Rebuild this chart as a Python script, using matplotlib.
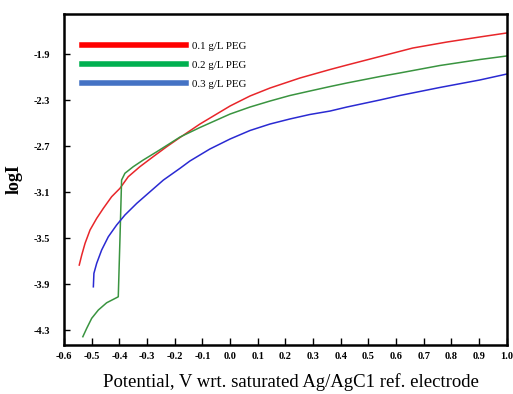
import matplotlib
matplotlib.use("Agg")
import matplotlib.pyplot as plt
from matplotlib.lines import Line2D

# Potentiodynamic curves
red_x = [-0.545, -0.536, -0.524, -0.506, -0.482, -0.458, -0.428, -0.398, -0.368,
         -0.326, -0.278, -0.229, -0.181, -0.109, 0.0, 0.072, 0.144, 0.252, 0.361,
         0.422, 0.541, 0.660, 0.783, 0.902, 1.0]
red_y = [-3.735, -3.648, -3.546, -3.430, -3.329, -3.242, -3.141, -3.068, -2.967,
         -2.880, -2.793, -2.706, -2.626, -2.509, -2.352, -2.265, -2.196, -2.109,
         -2.035, -1.996, -1.922, -1.848, -1.796, -1.752, -1.717]

green_x = [-0.532, -0.518, -0.500, -0.476, -0.446, -0.404, -0.398, -0.392, -0.380,
           -0.350, -0.314, -0.265, -0.217, -0.181, -0.109, 0.0, 0.072, 0.144, 0.216,
           0.288, 0.361, 0.422, 0.541, 0.613, 0.758, 0.902, 1.0]
green_y = [-4.358, -4.285, -4.198, -4.126, -4.063, -4.011, -3.517, -2.996, -2.937,
           -2.880, -2.822, -2.750, -2.677, -2.622, -2.539, -2.422, -2.361, -2.309,
           -2.261, -2.222, -2.183, -2.152, -2.096, -2.065, -2.000, -1.948, -1.917]

blue_x = [-0.494, -0.492, -0.482, -0.464, -0.440, -0.410, -0.380, -0.337, -0.289,
          -0.241, -0.181, -0.145, -0.073, 0.0, 0.072, 0.144, 0.216, 0.288, 0.361,
          0.422, 0.541, 0.613, 0.758, 0.902, 1.0]
blue_y = [-3.924, -3.807, -3.720, -3.604, -3.489, -3.387, -3.300, -3.198, -3.097,
          -2.996, -2.894, -2.830, -2.726, -2.639, -2.565, -2.509, -2.465, -2.426,
          -2.396, -2.361, -2.300, -2.261, -2.191, -2.126, -2.074]

labels = ["0.1 g/L PEG", "0.2 g/L PEG", "0.3 g/L PEG"]
x_ticks = [-0.6, -0.5, -0.4, -0.3, -0.2, -0.1, 0.0, 0.1, 0.2, 0.3, 0.4, 0.5,
           0.6, 0.7, 0.8, 0.9, 1.0]
y_ticks = [-1.9, -2.3, -2.7, -3.1, -3.5, -3.9, -4.3]

plt.rcParams["font.family"] = ["Liberation Serif", "DejaVu Serif"]

fig = plt.figure(figsize=(5.13, 3.94), dpi=100)
ax = fig.add_axes([0.1248, 0.1244, 0.8632, 0.8401])

ax.plot(red_x, red_y, color="#e8262a", lw=1.1)
ax.plot(green_x, green_y, color="#3a9440", lw=1.1)
ax.plot(blue_x, blue_y, color="#2a2ad2", lw=1.1)

ax.set_xlim(-0.6, 1.0)
ax.set_ylim(-4.43, -1.552)
ax.set_xticks(x_ticks)
ax.set_xticklabels([f"{t:.1f}" for t in x_ticks], fontsize=7.5, fontweight="bold")
ax.set_yticks(y_ticks)
ax.set_yticklabels([f"{t:.1f}" for t in y_ticks], fontsize=7.5, fontweight="bold")
ax.tick_params(axis="x", direction="in", length=5, width=1, pad=5)
ax.tick_params(axis="y", direction="in", length=4, width=1, pad=10)

for sp in ax.spines.values():
    sp.set_linewidth(1.8)

ax.set_ylabel("logI", fontsize=13, fontweight="bold", labelpad=8)
ax.set_xlabel("Potential, V wrt. saturated Ag/AgC1 ref. electrode", fontsize=13.5,
              labelpad=9)
ax.xaxis.label.set_x(0.512)

# legend uses brighter swatch colours than the curves, as in the original
handles = [Line2D([], [], color="#ff0000", lw=4),
           Line2D([], [], color="#00b050", lw=4),
           Line2D([], [], color="#4472c4", lw=4)]
ax.legend(handles, labels, loc="upper left", bbox_to_anchor=(0.04, 0.917),
          frameon=False, fontsize=7.8, handlelength=9.6, handletextpad=0.6,
          labelspacing=0.86, borderpad=0, borderaxespad=0)

fig.savefig("out.png", dpi=100)
